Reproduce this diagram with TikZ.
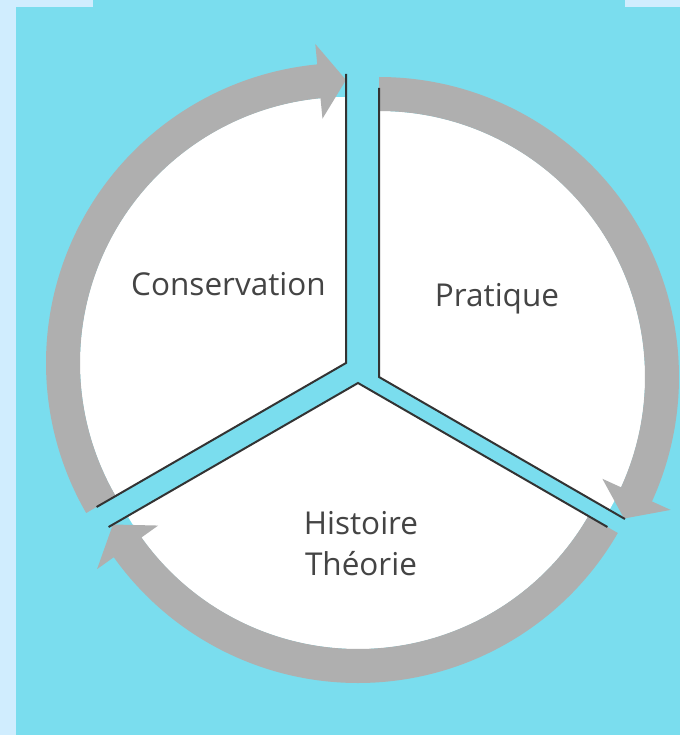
\documentclass[tikz,border=0pt]{standalone}
\usepackage{fontspec}
\setmainfont{Open Sans}
\usetikzlibrary{calc}
\definecolor{cyanbg}{RGB}{122,221,238}
\definecolor{lightbg}{RGB}{208,237,254}
\definecolor{arrowgray}{RGB}{175,175,175}
\definecolor{edgecol}{RGB}{51,51,51}
\definecolor{textcol}{RGB}{68,68,68}
\tikzset{
  sectorfill/.style={fill=white},
  sectoredge/.style={draw=edgecol, line width=2pt, line join=miter},
  band/.style={fill=arrowgray},
  label/.style={text=textcol, font=\fontsize{31.5}{41}\selectfont, align=center, anchor=base, inner sep=0pt}
}
\begin{document}
\begin{tikzpicture}[x=1pt,y=1pt]
\useasboundingbox (0,0) rectangle (680,-735);
% backgrounds
\fill[lightbg] (0,0) rectangle (680,-735);
\fill[cyanbg] (16,-7) rectangle (680,-735);
\fill[cyanbg] (93,0) rectangle (625,-7);
% apexes
\coordinate (L) at (346,-363);
\coordinate (R) at (379,-377);
\coordinate (B) at (358,-383);
% white sectors
\fill[sectorfill] (L) -- ($(L)+(90:266)$) arc[start angle=90,end angle=210,radius=266] -- cycle;
\fill[sectorfill] (R) -- ($(R)+(-30:266)$) arc[start angle=-30,end angle=90,radius=266] -- cycle;
\fill[sectorfill] (B) -- ($(B)+(210:266)$) arc[start angle=210,end angle=330,radius=266] -- cycle;
% gray arrow bands (clockwise)
\fill[band] ($(L)+(210:300)$) arc[start angle=210,end angle=95.5,radius=300]
  -- ($(L)+(95.5:320.5)$) -- ($(L)+(90:283)$) -- ($(L)+(95.5:245.5)$)
  -- ($(L)+(95.5:266)$) arc[start angle=95.5,end angle=210,radius=266] -- cycle;
\fill[band] ($(R)+(90:300)$) arc[start angle=90,end angle=-24.5,radius=300]
  -- ($(R)+(-24.5:320.5)$) -- ($(R)+(-30:283)$) -- ($(R)+(-24.5:245.5)$)
  -- ($(R)+(-24.5:266)$) arc[start angle=-24.5,end angle=90,radius=266] -- cycle;
\fill[band] ($(B)+(-30:300)$) arc[start angle=-30,end angle=-144.5,radius=300]
  -- ($(B)+(-144.5:320.5)$) -- ($(B)+(-150:283)$) -- ($(B)+(-144.5:245.5)$)
  -- ($(B)+(-144.5:266)$) arc[start angle=-144.5,end angle=-30,radius=266] -- cycle;
% sector straight edges
\draw[sectoredge] ($(L)+(90:289)$) -- (L) -- ($(L)+(210:288)$);
\draw[sectoredge] ($(R)+(90:289)$) -- (R) -- ($(R)+(-30:284)$);
\draw[sectoredge] ($(B)+(210:288)$) -- (B) -- ($(B)+(-30:288)$);
% labels
\node[label] (cons) at (228.5,-295) {Conservation};
\node[label] (prat) at (497,-306.5) {Pratique};
\node[label] (hist) at (361,-575) {Histoire\\Théorie};
\end{tikzpicture}
\end{document}
